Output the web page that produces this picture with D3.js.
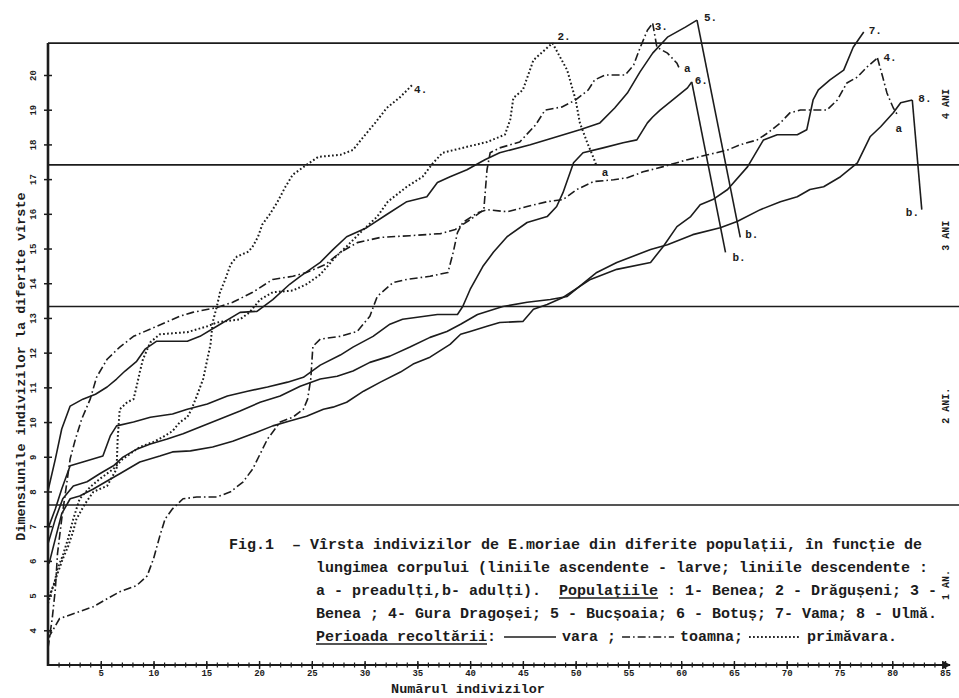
<!DOCTYPE html>
<html>
<head>
<meta charset="utf-8">
<script src="https://cdn.jsdelivr.net/npm/d3@7"></script>
<style>
body { margin: 0; background: #fff; }
svg { display: block; background: #fff; }
</style>
</head>
<body>
<svg width="959" height="698"></svg>
<script>

// [numarul individului, dimensiunea]
var bucsoaia5 = [[0,8.02],[0.7,8.94],[1.3,9.80],[2.1,10.46],[3.3,10.66],[4.5,10.80],[5.6,11.01],[6.5,11.24],[7.3,11.47],[8.4,11.75],[9.2,12.10],[10.3,12.33],[13.2,12.33],[14.4,12.47],[16.0,12.76],[18.2,13.16],[19.8,13.19],[21.3,13.53],[22.9,13.97],[23.9,14.20],[25.8,14.60],[27.0,14.97],[28.3,15.34],[30.2,15.60],[32.1,15.98],[34.0,16.35],[35.9,16.49],[36.9,16.90],[38.1,17.07],[39.7,17.27],[41.4,17.56],[42.8,17.76],[45.7,17.99],[47.9,18.19],[50.4,18.42],[52.3,18.62],[53.7,19.05],[54.9,19.48],[56.1,20.09],[57.3,20.63],[58.7,21.09],[60.4,21.38],[61.5,21.58]];
var bucsoaia5Down = [[65.6,15.32]];

var botus6 = [[0,6.93],[0.7,7.50],[1.3,8.07],[2.1,8.74],[3.3,8.85],[5.2,9.02],[5.9,9.60],[6.5,9.89],[8.1,10.0],[9.7,10.14],[11.8,10.23],[13.2,10.37],[15.1,10.52],[17.0,10.75],[18.9,10.89],[20.8,11.01],[22.7,11.15],[24.2,11.29],[25.8,11.64],[27.7,11.93],[28.9,12.16],[30.8,12.47],[32.4,12.82],[33.6,12.96],[35.0,13.02],[36.9,13.10],[38.8,13.10],[39.3,13.33],[40.0,13.82],[41.2,14.48],[42.2,14.89],[43.5,15.34],[45.4,15.75],[47.3,15.92],[48.2,16.21],[48.8,16.61],[49.8,17.47],[50.7,17.76],[52.6,17.90],[54.5,18.05],[55.8,18.13],[56.8,18.62],[57.3,18.79],[58.0,18.99],[59.2,19.28],[60.6,19.63],[61.0,19.80]];
var botus6Down = [[64.2,14.89]];

var vama7 = [[0.1,5.92],[0.7,6.64],[1.3,7.36],[2.1,7.79],[3.0,7.87],[4.3,8.07],[5.6,8.30],[6.8,8.51],[8.7,8.85],[10.6,9.02],[11.8,9.14],[13.5,9.17],[15.6,9.28],[17.5,9.45],[19.4,9.66],[21.3,9.89],[22.9,10.03],[24.5,10.17],[26.1,10.37],[27.0,10.43],[28.3,10.57],[29.9,10.89],[31.5,11.15],[33.4,11.44],[34.6,11.67],[36.2,11.87],[38.1,12.24],[39.1,12.53],[40.0,12.61],[41.6,12.76],[42.8,12.87],[45.0,12.90],[46.0,13.25],[47.3,13.39],[48.8,13.59],[51.4,14.11],[53.9,14.40],[57.1,14.60],[58.3,15.06],[59.6,15.63],[60.9,15.92],[61.8,16.26],[63.0,16.41],[64.4,16.70],[66.3,17.36],[67.8,18.13],[69.1,18.28],[71.0,18.28],[71.9,18.42],[72.5,19.28],[73.0,19.57],[74.1,19.86],[75.4,20.14],[76.3,20.80],[77.3,21.24]];

var ulma8 = [[0,6.49],[0.7,7.21],[1.4,7.79],[2.4,8.16],[3.7,8.28],[4.9,8.51],[6.2,8.74],[7.1,8.99],[8.4,9.22],[9.7,9.37],[11.3,9.51],[12.8,9.66],[14.4,9.86],[16.3,10.09],[18.2,10.32],[20.1,10.57],[22.0,10.75],[23.9,11.03],[25.8,11.24],[27.4,11.32],[28.9,11.47],[30.5,11.72],[32.4,11.90],[34.3,12.16],[36.2,12.44],[37.8,12.61],[39.1,12.82],[40.7,13.10],[43.1,13.33],[45.4,13.45],[47.6,13.53],[49.2,13.62],[52.0,14.31],[53.9,14.60],[57.1,14.97],[58.7,15.11],[61.1,15.40],[63.7,15.60],[65.3,15.78],[67.5,16.12],[69.4,16.35],[71.0,16.49],[72.2,16.70],[73.5,16.78],[75.1,17.07],[76.7,17.47],[77.9,18.22],[78.9,18.51],[80.1,18.91],[80.8,19.20],[81.9,19.28]];
var ulma8Down = [[82.8,16.12]];

var gura4Spring = [[0.1,4.97],[0.6,5.34],[0.9,5.78],[1.4,6.15],[1.9,6.64],[2.4,7.21],[3.0,7.79],[4.0,8.13],[4.9,8.36],[6.2,8.65],[7.1,8.94],[8.7,9.28],[10.0,9.43],[10.9,9.57],[11.8,9.74],[12.5,10.0],[13.2,10.14],[13.6,10.37],[14.1,10.75],[14.7,11.24],[15.1,11.81],[15.4,12.24],[15.6,12.87],[16.0,13.33],[16.3,13.74],[16.8,14.11],[17.3,14.54],[17.9,14.77],[19.0,14.91],[19.4,15.06],[19.9,15.34],[20.3,15.69],[21.0,15.98],[21.7,16.32],[22.5,16.78],[23.2,17.13],[24.5,17.41],[25.6,17.64],[27.7,17.70],[28.9,17.84],[29.9,18.22],[31.0,18.62],[32.1,19.05],[33.4,19.37],[34.5,19.71]];

var dragu2Spring = [[0,4.77],[0.4,5.20],[0.9,5.63],[1.4,6.06],[1.9,6.41],[2.4,6.87],[2.7,7.21],[3.5,7.64],[4.3,7.99],[5.6,8.16],[6.5,8.65],[6.6,9.51],[6.8,10.37],[7.5,10.57],[8.1,10.66],[8.4,11.03],[8.7,11.44],[9.0,11.81],[9.7,12.30],[10.6,12.53],[13.2,12.59],[15.1,12.76],[16.0,12.87],[18.2,12.96],[19.1,13.16],[20.1,13.53],[21.3,13.74],[23.2,13.79],[24.5,13.97],[25.8,14.25],[27.2,14.74],[28.3,15.06],[29.6,15.46],[31.2,15.92],[32.2,16.35],[34.0,16.78],[35.5,17.07],[36.5,17.47],[37.4,17.76],[39.7,17.93],[41.6,18.07],[43.3,18.28],[43.8,18.71],[44.1,19.34],[45.0,19.57],[46.0,20.43],[47.8,20.92]];
var dragu2Down = [[49.2,20.14],[50.0,19.28],[50.4,18.62],[51.1,18.05],[51.7,17.61],[52.0,17.36]];

var benea3Autumn = [[0,3.48],[0.4,4.34],[0.7,5.20],[0.9,6.21],[1.3,7.21],[1.7,8.07],[2.1,8.94],[2.6,9.51],[3.2,10.09],[4.0,10.66],[4.6,11.29],[5.6,11.81],[6.8,12.16],[8.1,12.47],[10.3,12.76],[12.5,13.05],[13.7,13.16],[16.0,13.30],[17.5,13.45],[19.4,13.74],[21.3,14.11],[23.2,14.20],[24.5,14.31],[26.3,14.54],[27.7,14.89],[29.3,15.17],[31.5,15.32],[34.3,15.37],[37.2,15.43],[38.6,15.55],[40.0,15.83],[41.3,16.12],[41.6,17.27],[41.9,17.76],[42.8,17.90],[44.7,18.07],[46.2,18.56],[47.1,18.99],[48.7,19.08],[50.0,19.28],[51.2,19.57],[51.8,19.86],[52.8,20.0],[54.7,20.0],[55.5,20.29],[56.1,20.78],[56.8,21.29],[57.3,21.49]];
var benea3Down = [[57.7,20.80],[58.7,20.63],[59.6,20.34],[59.9,20.14]];

var gura4Autumn = [[0,3.76],[1.1,4.34],[3.0,4.54],[4.3,4.68],[5.6,4.91],[6.8,5.11],[8.4,5.29],[9.4,5.57],[10.0,6.06],[10.6,6.72],[11.1,7.21],[11.8,7.50],[12.8,7.79],[14.1,7.84],[16.0,7.84],[17.3,7.99],[18.5,8.28],[19.4,8.65],[20.8,9.51],[22.0,10.0],[23.2,10.14],[24.2,10.37],[24.6,10.66],[24.9,11.24],[25.1,12.18],[25.8,12.39],[27.7,12.47],[29.3,12.61],[30.5,13.05],[31.2,13.62],[32.7,14.02],[34.0,14.11],[36.2,14.20],[37.9,14.31],[38.4,14.89],[38.8,15.46],[39.3,15.75],[40.7,16.03],[41.6,16.12],[43.5,16.06],[45.4,16.21],[47.3,16.35],[48.8,16.41],[50.1,16.70],[51.7,16.93],[53.6,16.98],[54.9,17.04],[56.4,17.21],[58.3,17.36],[60.6,17.56],[62.5,17.70],[64.4,17.84],[65.6,17.99],[67.2,18.13],[68.2,18.33],[69.4,18.62],[70.3,18.91],[71.3,18.99],[73.8,18.99],[74.8,19.28],[75.7,19.77],[76.7,19.94],[77.6,20.23],[78.6,20.49]];
var gura4AutumnDown = [[79.1,19.94],[79.5,19.48],[80.1,19.05],[80.5,18.85]];

var xTicks = [5,10,15,20,25,30,35,40,45,50,55,60,65,70,75,80,85];
var yTicks = [4,5,6,7,8,9,10,11,12,13,14,15,16,17,18,19,20];
var ageBounds = [3, 7.61, 13.33, 17.41, 20.92];
var ageLabels = ["1 AN.", "2 ANI.", "3 ANI", "4 ANI"];

var caption = [
  "Fig.1  \u2013 V\u00eersta indivizilor de E.moriae din diferite popula\u021bii, \u00een func\u021bie de",
  "lungimea corpului (liniile ascendente - larve; liniile descendente :",
  "a - preadul\u021bi,b- adul\u021bi).  Popula\u021biile : 1- Benea; 2 - Dr\u0103gu\u0219eni; 3 -",
  "Benea ; 4- Gura Drago\u0219ei; 5 - Buc\u0219oaia; 6 - Botu\u0219; 7- Vama; 8 - Ulm\u0103."
];

var ink = "#1c1c1c";
var mono = "'Liberation Mono', 'DejaVu Sans Mono', monospace";

var svg = d3.select("svg");

var x = d3.scaleLinear().domain([0, 85]).range([48, 945]);
var y = d3.scaleLinear().domain([3, 20]).range([665, 75]);

var dash = {
  solid: null,
  dashdot: "8,3,1.6,3",
  dotted: "1.7,2.3"
};

// linii de varsta
svg.append("g").selectAll("line")
  .data(ageBounds.slice(1))
  .enter().append("line")
    .attr("x1", x(0)).attr("x2", 959)
    .attr("y1", function(d) { return y(d); })
    .attr("y2", function(d) { return y(d); })
    .attr("stroke", ink).attr("stroke-width", 1.7);

svg.append("g").selectAll("text")
  .data(ageLabels)
  .enter().append("text")
    .attr("transform", function(d, i) {
      return "translate(945," + y((ageBounds[i] + ageBounds[i + 1]) / 2) + ") rotate(-90)";
    })
    .attr("text-anchor", "middle")
    .attr("dy", "0.35em")
    .attr("font-family", mono).attr("font-weight", "bold").attr("font-size", 10)
    .attr("fill", ink)
    .text(function(d) { return d; });

// axa y
var gy = svg.append("g")
    .attr("transform", "translate(" + x(0) + ",0)")
    .call(d3.axisLeft(y).tickValues(yTicks).tickSize(4).tickFormat(d3.format("d")));

gy.select(".domain").remove();
gy.selectAll(".tick line").attr("x1", 4).attr("stroke", ink).attr("stroke-width", 1.5);
gy.selectAll(".tick text")
    .attr("x", null).attr("dy", null)
    .attr("transform", "translate(-15,0) rotate(-90)")
    .attr("text-anchor", "middle")
    .attr("dy", "0.35em")
    .attr("font-family", mono).attr("font-weight", "bold").attr("font-size", 9)
    .attr("fill", ink);

svg.append("line")
    .attr("x1", x(0)).attr("x2", x(0))
    .attr("y1", y(3) + 1).attr("y2", y(ageBounds[4]))
    .attr("stroke", ink).attr("stroke-width", 2.6);

svg.append("text")
    .attr("transform", "translate(20," + y(11.6) + ") rotate(-90)")
    .attr("text-anchor", "middle")
    .attr("dy", "0.35em")
    .attr("font-family", mono).attr("font-weight", "bold").attr("font-size", 13.5)
    .attr("fill", ink)
    .text("Dimensiunile indivizilor la diferite v\u00eerste");

// axa x
svg.append("defs").append("marker")
    .attr("id", "arrow")
    .attr("viewBox", "0 0 10 10")
    .attr("refX", 9).attr("refY", 5)
    .attr("markerWidth", 4).attr("markerHeight", 4)
    .attr("orient", "auto")
  .append("path")
    .attr("d", "M0,0L10,5L0,10z")
    .attr("fill", ink);

var gxMinor = svg.append("g")
    .attr("transform", "translate(0," + y(3) + ")")
    .call(d3.axisBottom(x).tickValues(d3.range(1, 86)).tickSize(2.5).tickFormat(""));
gxMinor.select(".domain").remove();
gxMinor.selectAll(".tick line").attr("y1", -2.5).attr("stroke", ink).attr("stroke-width", 1.2);

var gx = svg.append("g")
    .attr("transform", "translate(0," + y(3) + ")")
    .call(d3.axisBottom(x).tickValues(xTicks).tickSize(4).tickPadding(1));
gx.select(".domain").remove();
gx.selectAll(".tick line").attr("y1", -4).attr("stroke", ink).attr("stroke-width", 1.4);
gx.selectAll(".tick text")
    .attr("font-family", mono).attr("font-weight", "bold").attr("font-size", 9)
    .attr("fill", ink);

svg.append("line")
    .attr("x1", x(0) - 1).attr("x2", x(85) + 5)
    .attr("y1", y(3)).attr("y2", y(3))
    .attr("stroke", ink).attr("stroke-width", 2.2)
    .attr("marker-end", "url(#arrow)");

svg.append("text")
    .attr("x", x(39.8)).attr("y", 693)
    .attr("text-anchor", "middle")
    .attr("font-family", mono).attr("font-weight", "bold").attr("font-size", 13.5)
    .attr("fill", ink)
    .text("Num\u0103rul indivizilor");

// curbele
var series = [
  { up: gura4Spring, style: "dotted", label: "4.", dx: 2, dy: 8 },
  { up: dragu2Spring, down: dragu2Down, style: "dotted", label: "2.", dx: 5, dy: -3, downLabel: "a", ddx: 5, ddy: 9 },
  { up: benea3Autumn, down: benea3Down, style: "dashdot", label: "3.", dx: 2, dy: 7, downLabel: "a", ddx: 4, ddy: 2 },
  { up: bucsoaia5, down: bucsoaia5Down, style: "solid", label: "5.", dx: 7, dy: 1, downLabel: "b.", ddx: 5, ddy: 1 },
  { up: botus6, down: botus6Down, style: "solid", label: "6.", dx: 3, dy: 2, downLabel: "b.", ddx: 7, ddy: 9 },
  { up: vama7, style: "solid", label: "7.", dx: 5, dy: 2 },
  { up: gura4Autumn, down: gura4AutumnDown, style: "dashdot", label: "4.", dx: 6, dy: 3, downLabel: "a", ddx: -2, ddy: 17 },
  { up: ulma8, down: ulma8Down, style: "solid", label: "8.", dx: 6, dy: 2, downLabel: "b.", ddx: -16, ddy: 6 }
];

var line = d3.line()
    .x(function(d) { return x(d[0]); })
    .y(function(d) { return y(d[1]); });

var gc = svg.append("g").attr("fill", "none").attr("stroke", ink);

series.forEach(function(s) {
  var width = s.style === "dotted" ? 2 : 1.6;
  var peak = s.up[s.up.length - 1];
  gc.append("path")
      .attr("d", line(s.up))
      .attr("stroke-width", width)
      .attr("stroke-dasharray", dash[s.style])
      .attr("stroke-linejoin", "round");
  svg.append("text")
      .attr("x", x(peak[0]) + s.dx).attr("y", y(peak[1]) + s.dy)
      .attr("font-family", mono).attr("font-weight", "bold").attr("font-size", 11)
      .attr("fill", ink)
      .text(s.label);
  if (s.down) {
    var pts = [peak].concat(s.down);
    var end = pts[pts.length - 1];
    gc.append("path")
        .attr("d", line(pts))
        .attr("stroke-width", width)
        .attr("stroke-dasharray", dash[s.style]);
    svg.append("text")
        .attr("x", x(end[0]) + s.ddx).attr("y", y(end[1]) + s.ddy)
        .attr("font-family", mono).attr("font-weight", "bold").attr("font-size", 11)
        .attr("fill", ink)
        .text(s.downLabel);
  }
});

// legenda
var gt = svg.append("g")
    .attr("font-family", mono).attr("font-weight", "bold").attr("font-size", 15)
    .attr("fill", ink);

var capX = [229, 316, 316, 316];
var capY = [549, 572, 595, 618];
var capLines = caption.map(function(t, i) {
  return gt.append("text").attr("x", capX[i]).attr("y", capY[i])
      .attr("xml:space", "preserve").style("white-space", "pre").text(t);
});

function underline(sel, start, len) {
  var node = sel.node();
  var p = node.getStartPositionOfChar(start);
  var w = node.getSubStringLength(start, len);
  svg.append("line")
      .attr("x1", p.x).attr("x2", p.x + w)
      .attr("y1", p.y + 3).attr("y2", p.y + 3)
      .attr("stroke", ink).attr("stroke-width", 1.4);
}
underline(capLines[2], caption[2].indexOf("Popula"), 11);

var legendY = 641;
var t1 = gt.append("text").attr("x", 316).attr("y", legendY).text("Perioada recolt\u0103rii:");
underline(t1, 0, 19);
var cx = 316 + t1.node().getComputedTextLength() + 8;

[["solid", "vara ;"], ["dashdot", "toamna;"], ["dotted", "prim\u0103vara."]].forEach(function(item) {
  svg.append("line")
      .attr("x1", cx).attr("x2", cx + 52)
      .attr("y1", legendY - 4).attr("y2", legendY - 4)
      .attr("stroke", ink)
      .attr("stroke-width", item[0] === "dotted" ? 2 : 1.6)
      .attr("stroke-dasharray", dash[item[0]]);
  cx += 58;
  var t = gt.append("text").attr("x", cx).attr("y", legendY).text(item[1]);
  cx += t.node().getComputedTextLength() + 6;
});

</script>
</body>
</html>
